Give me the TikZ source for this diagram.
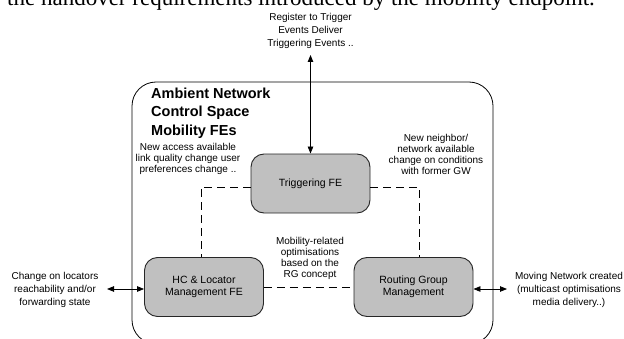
\documentclass[tikz,border=0pt]{standalone}
\usepackage{fontspec}
\setmainfont{Liberation Sans}
\newfontfamily\serifx{Liberation Serif}
\usetikzlibrary{arrows.meta}
\definecolor{boxgray}{RGB}{192,192,192}
\begin{document}
\begin{tikzpicture}[x=1pt,y=1pt,
  fe/.style={draw=black!85, line width=0.9pt, fill=boxgray, rounded corners=13pt, minimum width=119pt, minimum height=59pt, align=center, font=\fontsize{10.5}{12}\selectfont},
  lbl/.style={align=center, font=\fontsize{10}{11}\selectfont, inner sep=0pt},
  lblwide/.style={align=center, font=\fontsize{10}{12.8}\selectfont, inner sep=0pt},
  dsh/.style={line width=0.8pt, dash pattern=on 8pt off 5pt},
  arr/.style={line width=0.8pt, {Triangle[length=7pt,width=5.5pt]}-{Triangle[length=7pt,width=5.5pt]}}
]
\useasboundingbox (0,0) rectangle (624,338);
\node[anchor=base west, inner sep=0pt, font=\serifx\fontsize{23}{23}\selectfont] (head) at (7,332) {the handover requirements introduced by the mobility endpoint.};
\draw[line width=0.8pt, rounded corners=24pt] (132,256) rectangle (493,-6);
\node[fe] (trig) at (310.5,154.5) {Triggering FE};
\node[fe] (hc) at (204,51) {HC \& Locator\\Management FE};
\node[fe] (rg) at (413.5,51) {Routing Group\\Management};
\node[anchor=west, align=left, inner sep=0pt, font=\bfseries\fontsize{14.5}{18.5}\selectfont] (title) at (151,225) {Ambient Network\\Control Space\\Mobility FEs};
\coordinate (dl) at (201,151);
\coordinate (dr) at (419,151);
\draw[dsh] (trig.west |- dl) -- (dl) -- (dl |- hc.north);
\draw[dsh] (trig.east |- dr) -- (dr) -- (dr |- rg.north);
\draw[dsh] (hc.east) -- (rg.west);
\coordinate (topend) at (310.5,283);
\draw[arr] (topend) -- (trig.north);
\coordinate (lend) at (107,49);
\draw[arr] (lend) -- (hc.west |- lend);
\coordinate (rend) at (507,49);
\draw[arr] (rg.east |- rend) -- (rend);
\node[lblwide] (reg) at (310.5,307) {Register to Trigger\\Events Deliver\\Triggering Events ..};
\node[lbl] (acc) at (188,179) {New access available\\link quality change user\\preferences change ..};
\node[lbl] (nb) at (436,183.5) {New neighbor/\\network available\\change on conditions\\with former GW};
\node[lbl] (mob) at (310,80) {Mobility-related\\optimisations\\based on the\\RG concept};
\node[lblwide] (loc) at (55,48) {Change on locators\\reachability and/or\\forwarding state};
\node[lblwide] (mov) at (569,48) {Moving Network created\\(multicast optimisations\\media delivery..)};
\end{tikzpicture}
\end{document}
